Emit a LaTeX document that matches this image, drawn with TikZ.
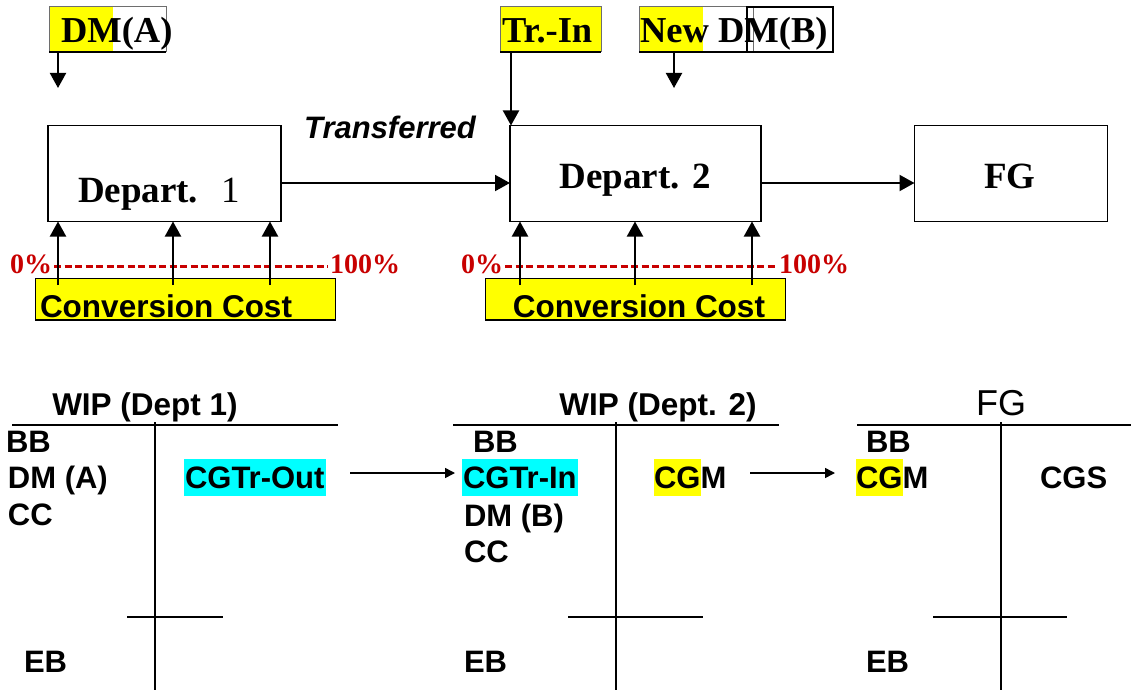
\documentclass[tikz,border=0pt]{standalone}
\usepackage{fontspec}
\setmainfont{Liberation Serif}
\setsansfont{Liberation Sans}
\usetikzlibrary{arrows.meta}
\definecolor{hiyellow}{RGB}{255,255,0}
\definecolor{hicyan}{RGB}{0,255,255}
\definecolor{pctred}{RGB}{200,0,0}
\definecolor{boxgray}{RGB}{110,110,110}
\newcommand\hlpart[2]{{\setlength{\fboxsep}{0pt}\colorbox{#1}{\rule[-8pt]{0pt}{37pt}#2}}}
\begin{document}
\begin{tikzpicture}[x=1pt,y=-1pt,
  every node/.style={inner sep=0pt,outer sep=0pt},
  arr/.style={-{Triangle[length=15pt,width=16pt]},line width=2pt},
  tarr/.style={-{Triangle[length=10pt,width=10pt]},line width=1.5pt},
  proc/.style={draw,line width=1.3pt},
  topbox/.style={draw=boxgray,line width=1pt,anchor=north west},
  uline/.style={line width=2.2pt},
  serifbig/.style={font=\fontsize{37}{42}\selectfont\bfseries},
  seriftop/.style={font=\fontsize{36.5}{40}\selectfont\bfseries},
  pct/.style={font=\fontsize{28}{32}\selectfont\bfseries,text=pctred},
  dashline/.style={draw=pctred,line width=3.4pt,dash pattern=on 7pt off 3.5pt},
  ccbox/.style={draw,line width=0.8pt,fill=hiyellow,anchor=north west,minimum width=300pt,minimum height=42pt},
  cctext/.style={font=\sffamily\bfseries\fontsize{31.5}{36}\selectfont},
  acct/.style={font=\sffamily\bfseries\fontsize{31}{34}\selectfont,anchor=base west},
  accttitle/.style={font=\sffamily\bfseries\fontsize{31.5}{35}\selectfont,anchor=base},
  tline/.style={line width=1.3pt},
]
\useasboundingbox (0,0) rectangle (1131,690);

% ---------- process boxes ----------
\node[proc,minimum width=233pt,minimum height=96pt] (d1) at (164.5,173.5) {};
\node[serifbig,anchor=base west] (d1t) at (78,202) {Depart.};
\node[font=\fontsize{37}{42}\selectfont,anchor=base west] (d1n) at (221,202) {1};
\node[proc,minimum width=251pt,minimum height=96pt] (d2) at (635.5,173.5) {};
\node[serifbig,anchor=base] (d2t) at (635,188) {Depart. 2};
\node[proc,minimum width=193pt,minimum height=96pt] (fg) at (1011,173.5) {};
\node[serifbig,anchor=base] (fgt) at (1010,188) {FG};
\node[font=\sffamily\bfseries\itshape\fontsize{31}{35}\selectfont,anchor=base] (trf) at (390,138) {Transferred};

\draw[arr] ([yshift=-9.5pt]d1.east) -- ([yshift=-9.5pt]d2.west);
\draw[arr] ([yshift=-9.5pt]d2.east) -- ([yshift=-9.5pt]fg.west);

% ---------- top inputs ----------
\fill[hiyellow] (49,7) rectangle (113,51);
\node[topbox,minimum width=117pt,minimum height=45pt] (dmab) at (49,7) {};
\node[seriftop,anchor=base west] (dmat) at (61,43) {DM(A)};
\draw[uline] (dmab.south west) -- (dmab.south east);
\coordinate (dmaS) at (58,52);
\coordinate (dmaE) at (58,88);
\draw[arr] (dmaS) -- (dmaE);

\node[topbox,fill=hiyellow,minimum width=101pt,minimum height=45pt] (trin) at (500,7) {};
\node[seriftop,anchor=base west] (trint) at (502,43) {Tr.-In};
\draw[uline] (trin.south west) -- (trin.south east);
\coordinate (trinS) at ([xshift=11pt]trin.south west);
\draw[arr] (trinS) -- (trinS |- d2.north);

\fill[hiyellow] (639,7) rectangle (703,52);
\node[topbox,minimum width=114pt,minimum height=45pt] (ndm) at (639,7) {};
\node[draw,line width=2pt,anchor=north west,minimum width=86pt,minimum height=45pt] (ndm2) at (747,7) {};
\node[seriftop,anchor=base west] (ndmt) at (640,43) {New DM(B)};
\draw[uline] (ndm.south west) -- (ndm.south east);
\coordinate (ndmS) at (674,52);
\coordinate (ndmE) at (674,88);
\draw[arr] (ndmS) -- (ndmE);

% ---------- conversion cost ----------
\node[ccbox] (cc1) at (35,278) {};
\node[cctext,anchor=base west] (cc1t) at (40,317) {Conversion Cost};
\draw[uline] (cc1.south west) -- (cc1.south east);
\node[ccbox] (cc2) at (485,278) {};
\node[cctext,anchor=base] (cc2t) at (639,317) {Conversion Cost};
\draw[uline] (cc2.south west) -- (cc2.south east);

\node[pct,anchor=base east] (p0a) at (52,273) {0\%};
\node[pct,anchor=base west] (p1a) at (330,273) {100\%};
\node[pct,anchor=base east] (p0b) at (503,273) {0\%};
\node[pct,anchor=base west] (p1b) at (779,273) {100\%};
\coordinate (la0) at (54,266.5);
\coordinate (la1) at (328,266.5);
\coordinate (lb0) at (505,266.5);
\coordinate (lb1) at (778,266.5);
\draw[dashline] (la0) -- (la1);
\draw[dashline] (lb0) -- (lb1);

\foreach \x [count=\i] in {58,173,270}{
  \coordinate (ua\i) at (\x,285);
  \draw[arr] (ua\i) -- (ua\i |- d1.south);
}
\foreach \x [count=\i] in {520,635,752}{
  \coordinate (ub\i) at (\x,285);
  \draw[arr] (ub\i) -- (ub\i |- d2.south);
}

% ---------- T-accounts ----------
\node[accttitle] (t1) at (145,415) {WIP (Dept 1)};
\draw[tline] (12,425) -- (338,425);
\draw[tline] (155,422) -- (155,690);
\draw[tline] (127,617) -- (223,617);
\node[acct] (bb1) at (6,452) {BB};
\node[acct] (dma1) at (8,488) {DM (A)};
\node[acct] (cc1a) at (8,525) {CC};
\node[acct] (eb1) at (24,672) {EB};
\node[acct] (cgout) at (184,488) {\hlpart{hicyan}{\kern1pt CGTr-Out\kern2pt}};

\node[accttitle] (t2) at (658,415) {WIP (Dept. 2)};
\draw[tline] (453,425) -- (779,425);
\draw[tline] (616,422) -- (616,690);
\draw[tline] (568,617) -- (703,617);
\node[acct] (bb2) at (473,452) {BB};
\node[acct] (cgin) at (462,488) {\hlpart{hicyan}{\kern1pt CGTr-In\kern1pt}};
\node[acct] (dmb2) at (464,526) {DM (B)};
\node[acct] (cc2a) at (464,562) {CC};
\node[acct] (eb2) at (464,672) {EB};
\node[acct] (cgm2) at (654,488) {\hlpart{hiyellow}{CG}M};

\node[font=\sffamily\fontsize{36}{40}\selectfont,anchor=base] (t3) at (1001,415) {FG};
\draw[tline] (857,425) -- (1131,425);
\draw[tline] (1001,422) -- (1001,690);
\draw[tline] (933,617) -- (1067,617);
\node[acct] (bb3) at (866,452) {BB};
\node[acct] (cgm3) at (856,488) {\hlpart{hiyellow}{CG}M};
\node[acct] (cgs3) at (1040,488) {CGS};
\node[acct] (eb3) at (866,672) {EB};

\draw[tarr] ([xshift=24pt,yshift=4.5pt]cgout.east) -- ([xshift=-7pt,yshift=4.5pt]cgin.west);
\draw[tarr] ([xshift=24pt,yshift=4.5pt]cgm2.east) -- ([xshift=-21pt,yshift=4.5pt]cgm3.west);
\end{tikzpicture}
\end{document}
